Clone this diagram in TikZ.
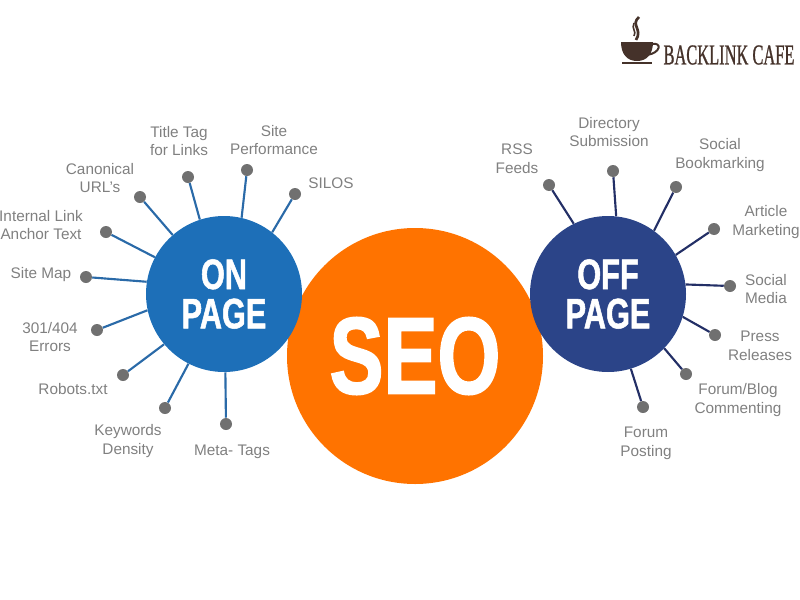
\documentclass[tikz,border=0pt]{standalone}
\usepackage{fontspec}
\setmainfont{Liberation Sans}
\newfontfamily\hubfont[FakeStretch=0.72,FakeBold=1.2]{Liberation Sans}
\newfontfamily\seofont[FakeStretch=0.74,FakeBold=1.5]{Liberation Sans}
\newfontfamily\logofont[FakeStretch=0.57,FakeBold=0.8]{Liberation Serif}
\definecolor{seoorange}{HTML}{FF7300}
\definecolor{onblue}{HTML}{1D6FB8}
\definecolor{offblue}{HTML}{2B4488}
\definecolor{online}{HTML}{2A6AA8}
\definecolor{offline}{HTML}{232F66}
\definecolor{dotgrey}{HTML}{707070}
\definecolor{labelgrey}{HTML}{808080}
\definecolor{logobrown}{HTML}{45322A}
\tikzset{
  dot/.style={circle, fill=dotgrey, minimum size=9pt, inner sep=0pt},
  lbl/.style={text=labelgrey, align=center, inner sep=0pt, font=\fontsize{11.5}{14}\selectfont},
  hub/.style={circle, minimum size=117pt, inner sep=0pt, text=white, align=center,
    font=\hubfont\bfseries\fontsize{32}{29.5}\selectfont},
  onspoke/.style={line width=1.6pt, draw=online},
  offspoke/.style={line width=1.6pt, draw=offline}
}
\begin{document}
\begin{tikzpicture}[x=0.75pt, y=-0.75pt]

        % Page size in pixels of the reference
        \useasboundingbox (0,0) rectangle (800,600);

        % Central circle
        \node[circle, fill=seoorange, minimum size=192pt, inner sep=0pt, text=white,
          font=\seofont\bfseries\fontsize{82}{82}\selectfont] (seo) at (415,356) {SEO};

        % Two hubs
        \node[hub, fill=onblue] (onpage) at (224,294) {ON\\PAGE};
        \node[hub, fill=offblue] (offpage) at (608,294) {OFF\\PAGE};

        % On page dots
        \node[dot] (titletag) at (188,177) {};
        \node[dot] (siteperf) at (247,170) {};
        \node[dot] (silos) at (295,194) {};
        \node[dot] (canonical) at (140,197) {};
        \node[dot] (internal) at (106,232) {};
        \node[dot] (sitemap) at (86,277) {};
        \node[dot] (errors) at (97,330) {};
        \node[dot] (robots) at (123,375) {};
        \node[dot] (keywords) at (165,408) {};
        \node[dot] (metatags) at (226,424) {};

        % On page spokes
        \draw[onspoke] (titletag) -- (onpage.108);
        \draw[onspoke] (siteperf) -- (onpage.77);
        \draw[onspoke] (silos) -- (onpage.52);
        \draw[onspoke] (canonical) -- (onpage.131);
        \draw[onspoke] (internal) -- (onpage.152);
        \draw[onspoke] (sitemap) -- (onpage.171);
        \draw[onspoke] (errors) -- (onpage.192);
        \draw[onspoke] (robots) -- (onpage.220);
        \draw[onspoke] (keywords) -- (onpage.243);
        \draw[onspoke] (metatags) -- (onpage.271);

        % On page labels
        \node[lbl] (titletaglbl) at (179,141) {Title Tag\\for Links};
        \node[lbl] (siteperflbl) at (274,140) {Site\\Performance};
        \node[lbl] (silosfbl) at (331,183) {SILOS};
        \node[lbl] (canonicallbl) at (100,178) {Canonical\\URL’s};
        \node[lbl] (internallbl) at (41,225) {Internal Link\\Anchor Text};
        \node[lbl] (sitemaplbl) at (41,275) {Site Map};
        \node[lbl] (errorslbl) at (50,337) {301/404\\Errors};
        \node[lbl] (robotslbl) at (73,389) {Robots.txt};
        \node[lbl] (keywordslbl) at (128,441) {Keywords\\Density};
        \node[lbl] (metatagslbl) at (232,452) {Meta- Tags};

        % Off page dots
        \node[dot] (rss) at (549,185) {};
        \node[dot] (directory) at (613,171) {};
        \node[dot] (bookmarking) at (676,187) {};
        \node[dot] (article) at (714,229) {};
        \node[dot] (socialmedia) at (730,286) {};
        \node[dot] (press) at (715,335) {};
        \node[dot] (blog) at (686,374) {};
        \node[dot] (forum) at (643,407) {};

        % Off page spokes
        \draw[offspoke] (rss) -- (offpage.116);
        \draw[offspoke] (directory) -- (offpage.84);
        \draw[offspoke] (bookmarking) -- (offpage.54);
        \draw[offspoke] (article) -- (offpage.30);
        \draw[offspoke] (socialmedia) -- (offpage.7);
        \draw[offspoke] (press) -- (offpage.-17);
        \draw[offspoke] (blog) -- (offpage.-44);
        \draw[offspoke] (forum) -- (offpage.-73);

        % Off page labels
        \node[lbl] (rsslbl) at (517,159) {RSS\\Feeds};
        \node[lbl] (directorylbl) at (609,132) {Directory\\Submission};
        \node[lbl] (bookmarkinglbl) at (720,155) {Social\\Bookmarking};
        \node[lbl] (articlelbl) at (766,222) {Article\\Marketing};
        \node[lbl] (socialmedialbl) at (766,289) {Social\\Media};
        \node[lbl] (presslbl) at (760,346) {Press\\Releases};
        \node[lbl] (bloglbl) at (738,400) {Forum/Blog\\Commenting};
        \node[lbl] (forumlbl) at (646,443) {Forum\\Posting};

        % Logo
        \fill[logobrown] (621,42) -- (653,42) .. controls (653,54) and (647,61) .. (637,61)
          .. controls (627,61) and (621,54) .. (621,42) -- cycle;
        \draw[logobrown, line width=1.5pt] (652,44) .. controls (662,42) and (661,53) .. (647,55);
        \fill[logobrown] (622,62) rectangle (652,64);
        \draw[logobrown, line width=2pt] (639,17) .. controls (630,25) and (643,29) .. (636,40);
        \draw[logobrown, line width=1.2pt] (634,23) .. controls (631,29) and (637,31) .. (634,36);
        \node[text=logobrown, inner sep=0pt, font=\logofont\fontsize{21.6}{22}\selectfont] (logo) at (729,55) {BACKLINK CAFE};

    \end{tikzpicture}
\end{document}
